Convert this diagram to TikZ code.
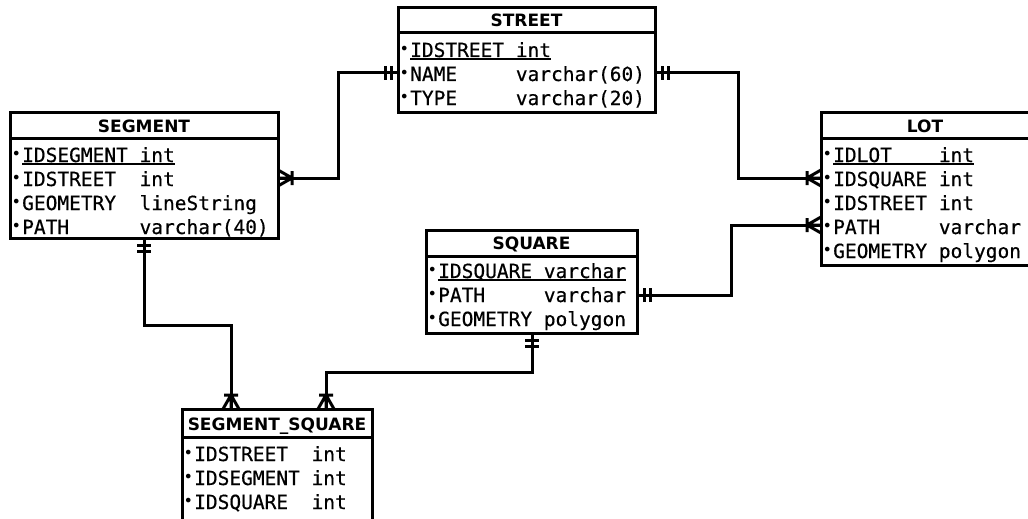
\documentclass[tikz,border=0pt]{standalone}
\usepackage{fontspec}
\setmonofont{DejaVu Sans Mono}[FakeBold=0.5]
\newfontfamily\hdrfont{DejaVu Sans}
\newfontfamily\bulfont{DejaVu Sans}
\usetikzlibrary{calc}
\newlength\cw \setlength\cw{11.74pt}
\newcommand\bul{\makebox[9pt][l]{\hspace*{-1.5pt}\raisebox{2.5pt}{\bulfont\fontsize{16}{16}\selectfont •}}}
\newcommand\attr[3][9]{\bul\makebox[#1\cw][l]{#2}#3}
\newcommand\pk[3][9]{\bul\setbox0=\hbox{\makebox[#1\cw][l]{#2}#3}\rlap{\rule[-2.8pt]{\wd0}{1.5pt}}\box0}
\newcommand\mandone[2]{\begin{scope}[shift={(#1)},rotate=#2]\draw[conn] (7,-7)--(7,7) (13,-7)--(13,7);\end{scope}}
\newcommand\manymand[2]{\begin{scope}[shift={(#1)},rotate=#2]\draw[conn] (14,-7)--(14,7) (14,0)--(0,8) (14,0)--(0,0) (14,0)--(0,-8);\end{scope}}
\tikzset{
  ebox/.style={draw, line width=3pt, inner sep=0pt, outer sep=0pt, anchor=north west},
  sepline/.style={line width=3pt},
  conn/.style={line width=3pt},
  hdr/.style={inner sep=0pt, anchor=base, font=\hdrfont\bfseries\fontsize{17}{17}\selectfont},
  row/.style={inner sep=0pt, anchor=base west, font=\ttfamily\fontsize{19.5}{20}\selectfont}
}
\begin{document}
\begin{tikzpicture}[x=1pt,y=1pt]
\useasboundingbox (0,0) rectangle (1028,-519);
\clip (0,0) rectangle (1028,-519);
\fill[white] (0,0) rectangle (1028,-519);

% STREET
\node[ebox, minimum width=257pt, minimum height=104pt] (street) at (398,-8) {};
\draw[sepline] (street.west |- 0,-33) -- (street.east |- 0,-33);
\node[hdr] (streetH) at (526.5,-27) {STREET};
\node[row] (street1) at (401,-57) {\pk{IDSTREET}{int}};
\node[row] (street2) at (401,-81) {\attr{NAME}{varchar(60)}};
\node[row] (street3) at (401,-105) {\attr{TYPE}{varchar(20)}};

% SEGMENT
\node[ebox, minimum width=268pt, minimum height=126pt] (seg) at (10,-112) {};
\draw[sepline] (seg.west |- 0,-138) -- (seg.east |- 0,-138);
\node[hdr] (segH) at (144,-132) {SEGMENT};
\node[row] (seg1) at (13,-162) {\pk[10]{IDSEGMENT}{int}};
\node[row] (seg2) at (13,-186) {\attr[10]{IDSTREET}{int}};
\node[row] (seg3) at (13,-210) {\attr[10]{GEOMETRY}{lineString}};
\node[row] (seg4) at (13,-234) {\attr[10]{PATH}{varchar(40)}};

% LOT
\node[ebox, minimum width=212pt, minimum height=153pt] (lot) at (821,-112) {};
\draw[sepline] (lot.west |- 0,-138) -- (lot.east |- 0,-138);
\node[hdr] (lotH) at (925,-132) {LOT};
\node[row] (lot1) at (824,-162) {\pk{IDLOT}{int}};
\node[row] (lot2) at (824,-186) {\attr{IDSQUARE}{int}};
\node[row] (lot3) at (824,-210) {\attr{IDSTREET}{int}};
\node[row] (lot4) at (824,-234) {\attr{PATH}{varchar}};
\node[row] (lot5) at (824,-258) {\attr{GEOMETRY}{polygon}};

% SQUARE
\node[ebox, minimum width=211pt, minimum height=103pt] (square) at (426,-230) {};
\draw[sepline] (square.west |- 0,-256) -- (square.east |- 0,-256);
\node[hdr] (squareH) at (531.5,-249.5) {SQUARE};
\node[row] (square1) at (429,-278) {\pk{IDSQUARE}{varchar}};
\node[row] (square2) at (429,-302) {\attr{PATH}{varchar}};
\node[row] (square3) at (429,-326) {\attr{GEOMETRY}{polygon}};

% SEGMENT_SQUARE
\node[ebox, minimum width=190pt, minimum height=115pt] (segsq) at (182,-409) {};
\draw[sepline] (segsq.west |- 0,-437) -- (segsq.east |- 0,-437);
\node[hdr] (segsqH) at (277,-430) {SEGMENT\_SQUARE};
\node[row] (segsq1) at (185,-461) {\attr[10]{IDSTREET}{int}};
\node[row] (segsq2) at (185,-485) {\attr[10]{IDSEGMENT}{int}};
\node[row] (segsq3) at (185,-509) {\attr[10]{IDSQUARE}{int}};

% connector end points
\coordinate (segR) at (seg.east |- 0,-178);
\coordinate (stL) at (street.west |- 0,-73);
\coordinate (stR) at (street.east |- 0,-73);
\coordinate (lotA) at (lot.west |- 0,-178);
\coordinate (lotB) at (lot.west |- 0,-225);
\coordinate (sqR) at (square.east |- 0,-295);
\coordinate (segB) at (seg.south -| 144,0);
\coordinate (sqB) at (square.south -| 532,0);
\coordinate (ssA) at (segsq.north -| 231,0);
\coordinate (ssB) at (segsq.north -| 326,0);

% connectors
\draw[conn] (segR) -- ++(60,0) |- (stL);
\draw[conn] (stR) -- ++(83,0) |- (lotA);
\draw[conn] (sqR) -- ++(94,0) |- (lotB);
\draw[conn] (segB) -- ++(0,-87) -| (ssA);
\draw[conn] (sqB) -- ++(0,-39) -| (ssB);

% end markers
\manymand{segR}{0}
\mandone{stL}{180}
\mandone{stR}{0}
\manymand{lotA}{180}
\mandone{sqR}{0}
\manymand{lotB}{180}
\mandone{segB}{-90}
\manymand{ssA}{90}
\mandone{sqB}{-90}
\manymand{ssB}{90}
\end{tikzpicture}
\end{document}
